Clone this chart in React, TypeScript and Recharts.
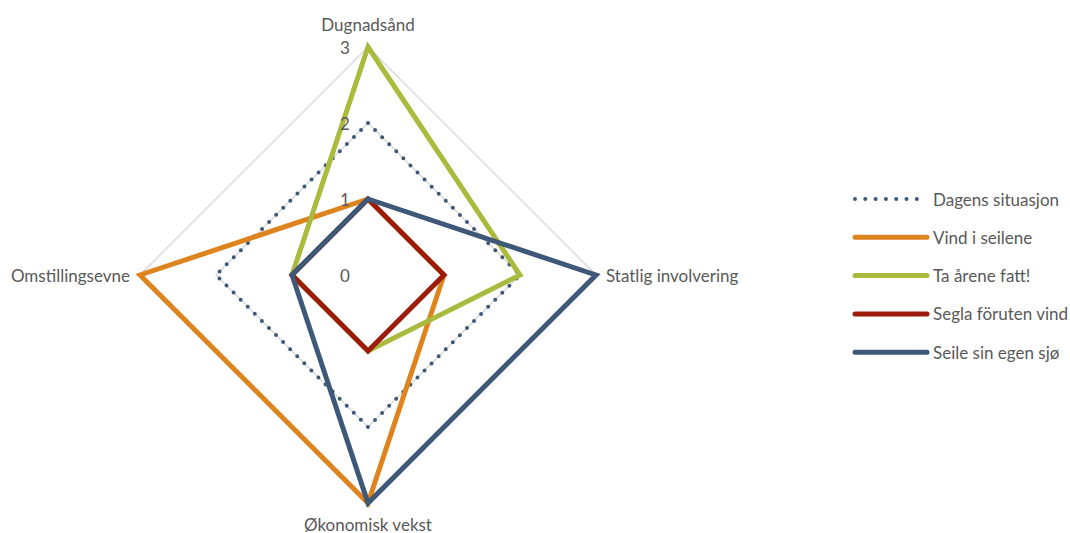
import { RadarChart, Radar, PolarGrid, PolarAngleAxis, PolarRadiusAxis, Legend } from "recharts";

const categories = ["Dugnadsånd", "Statlig involvering", "Økonomisk vekst", "Omstillingsevne"];
const dagensSituasjon = [2, 2, 2, 2];
const vindISeilene = [1, 1, 3, 3];
const taAreneFatt = [3, 2, 1, 1];
const seglaForutenVind = [1, 1, 1, 1];
const seileSinEgenSjo = [1, 3, 3, 1];
const radiusTicks = [0, 1, 2, 3];

const series = [
  { key: "dagens", name: "Dagens situasjon", values: dagensSituasjon, color: "#3E5878", dotted: true },
  { key: "vind", name: "Vind i seilene", values: vindISeilene, color: "#DE841F", dotted: false },
  { key: "ta", name: "Ta årene fatt!", values: taAreneFatt, color: "#A9BA3C", dotted: false },
  { key: "segla", name: "Segla föruten vind", values: seglaForutenVind, color: "#9C1B0B", dotted: false },
  { key: "seile", name: "Seile sin egen sjø", values: seileSinEgenSjo, color: "#3E5878", dotted: false },
];

const data = categories.map((c, i) => {
  const row: any = { category: c };
  series.forEach((s) => (row[s.key] = s.values[i]));
  return row;
});

const FONT = "Lato, 'Liberation Sans', sans-serif";
const CX = 368;
const CY = 275;

const AngleTick = ({ x, y, payload }: any) => {
  const dx = x - CX;
  const dy = y - CY;
  let anchor: any = "middle";
  let tx = x;
  let ty = y;
  if (Math.abs(dx) > Math.abs(dy)) {
    anchor = dx > 0 ? "start" : "end";
    tx = dx > 0 ? x + 2 : x - 2;
  } else {
    ty = dy < 0 ? y - 15 : y + 13;
  }
  return (
    <text x={tx} y={ty} textAnchor={anchor} dominantBaseline="central" fill="#595959" fontSize={17} fontFamily={FONT}>
      {payload.value}
    </text>
  );
};

const RadiusTick = ({ x, y, payload }: any) => (
  <text x={x - 23} y={y} textAnchor="middle" dominantBaseline="central" fill="#595959" fontSize={17} fontFamily={FONT}>
    {payload.value}
  </text>
);

const LegendContent = () => (
  <svg width={230} height={200}>
    {series.map((s, i) => {
      const y = 14 + i * 38.3;
      return (
        <g key={s.key}>
          <line
            x1={5}
            x2={77}
            y1={y}
            y2={y}
            stroke={s.color}
            strokeWidth={s.dotted ? 4 : 5}
            strokeLinecap="round"
            strokeDasharray={s.dotted ? "0 10.3" : undefined}
          />
          <text x={83} y={y} dominantBaseline="central" fill="#595959" fontSize={17} fontFamily={FONT}>
            {s.name}
          </text>
        </g>
      );
    })}
  </svg>
);

export default function App() {
  return (
    <div style={{ position: "absolute", left: 0, top: 0, width: 1070, height: 533, background: "#fff" }}>
      <RadarChart width={1070} height={533} data={data} cx={CX} cy={CY} outerRadius={228} margin={{ top: 0, right: 0, bottom: 0, left: 0 }}>
        <PolarGrid radialLines={false} stroke="#D9D9D9" strokeWidth={1.5} />
        <PolarAngleAxis dataKey="category" tick={<AngleTick />} tickLine={false} axisLine={false} />
        <PolarRadiusAxis angle={90} domain={[0, 3]} ticks={radiusTicks as any} tickCount={4} tick={<RadiusTick />} axisLine={false} tickLine={false} />
        {series.map((s) => (
          <Radar
            key={s.key}
            name={s.name}
            dataKey={s.key}
            stroke={s.color}
            strokeWidth={s.dotted ? 4 : 5}
            strokeLinecap="round"
            strokeLinejoin="miter"
            strokeDasharray={s.dotted ? "0 10" : undefined}
            fill="none"
            fillOpacity={0}
            dot={false}
            isAnimationActive={false}
          />
        ))}
        <Legend content={<LegendContent />} wrapperStyle={{ position: "absolute", left: 850, top: 185, width: 230 }} />
      </RadarChart>
    </div>
  );
}
